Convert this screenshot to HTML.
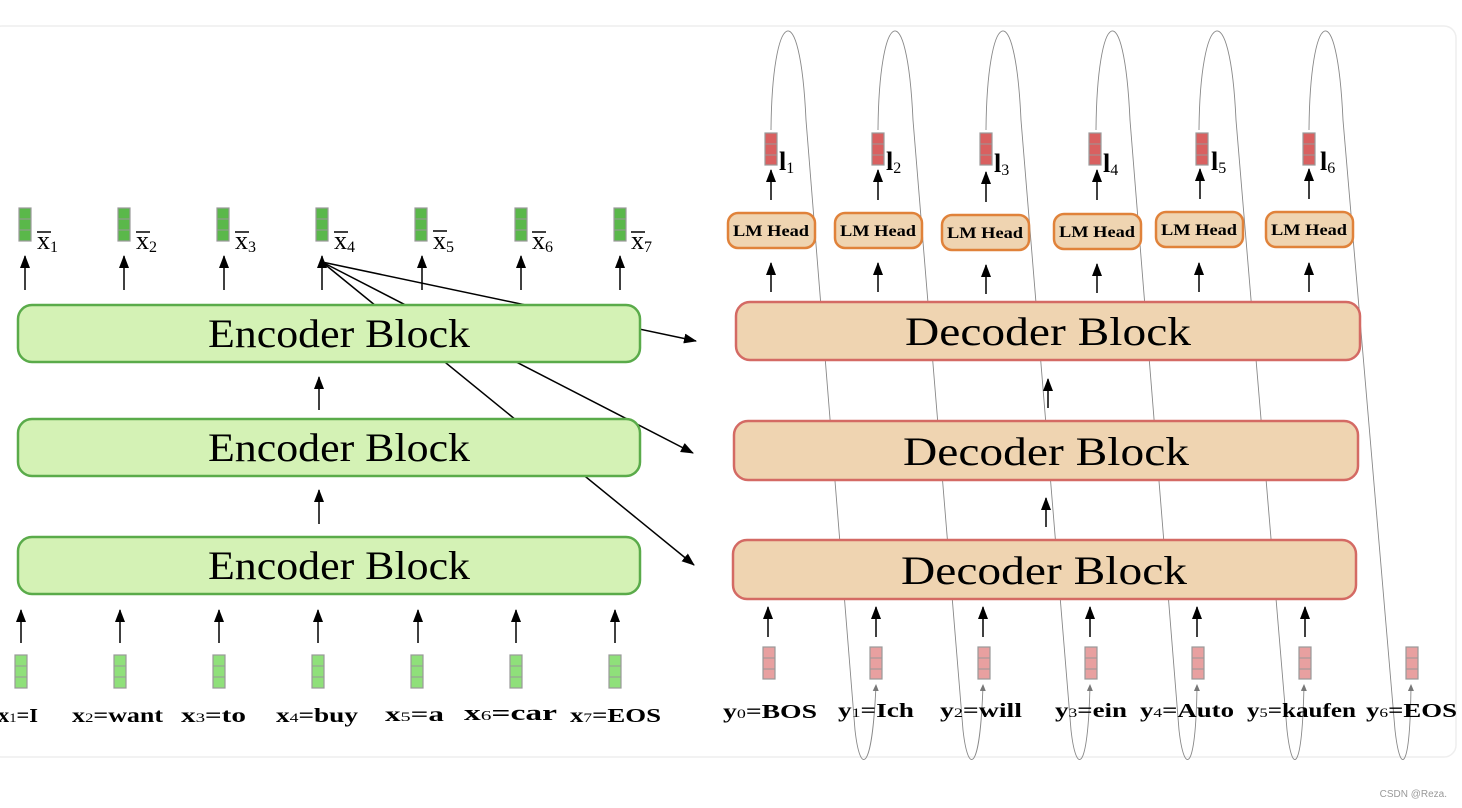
<!DOCTYPE html><html><head><style>body{margin:0;background:#fff}svg{display:block}</style></head><body>
<svg width="1462" height="808" viewBox="0 0 1462 808" xmlns="http://www.w3.org/2000/svg" font-family="Liberation Serif, serif">
<defs><marker id="a" markerWidth="14" markerHeight="14" refX="12" refY="5" orient="auto" markerUnits="userSpaceOnUse"><path d="M0,0 L13,5 L0,10 z" fill="#000"/></marker>
<marker id="g" markerWidth="8" markerHeight="8" refX="6" refY="3" orient="auto" markerUnits="userSpaceOnUse"><path d="M0,0 L7,3 L0,6 z" fill="#777"/></marker></defs>
<rect x="-10" y="26" width="1466" height="731" rx="12" fill="#fff" stroke="#eee" stroke-width="1.5"/>
<g fill="none" stroke="#888" stroke-width="0.9">
<path d="M771,130 C772,10 800,-10 806,120 L855,730 C860,775 872,775 876,685" marker-end="url(#g)"/>
<path d="M878,130 C879,10 907,-10 913,120 L963,730 C968,775 980,775 983,685" marker-end="url(#g)"/>
<path d="M986,130 C987,10 1015,-10 1021,120 L1071,730 C1076,775 1088,775 1090,685" marker-end="url(#g)"/>
<path d="M1096,130 C1097,10 1124,-10 1130,120 L1179,730 C1184,775 1196,775 1197,685" marker-end="url(#g)"/>
<path d="M1199,130 C1200,10 1230,-10 1236,120 L1287,730 C1292,775 1302,775 1304,685" marker-end="url(#g)"/>
<path d="M1309,130 C1310,10 1337,-10 1343,120 L1395,730 C1400,775 1410,775 1411,685" marker-end="url(#g)"/>
</g>
<g stroke="#000" stroke-width="1.5" marker-end="url(#a)">
<line x1="322" y1="262" x2="696" y2="341"/><line x1="322" y1="262" x2="693" y2="453"/><line x1="322" y1="262" x2="694" y2="565"/>
</g>
<g fill="#d4f2b5" stroke="#5aab4a" stroke-width="2.5">
<rect x="18" y="305" width="622" height="57" rx="14"/><rect x="18" y="419" width="622" height="57" rx="14"/><rect x="18" y="537" width="622" height="57" rx="14"/></g>
<g font-size="40" text-anchor="middle" lengthAdjust="spacingAndGlyphs"><text x="339" y="347" textLength="262" lengthAdjust="spacingAndGlyphs">Encoder Block</text><text x="339" y="461" textLength="262" lengthAdjust="spacingAndGlyphs">Encoder Block</text><text x="339" y="579" textLength="262" lengthAdjust="spacingAndGlyphs">Encoder Block</text></g>
<g fill="#efd4b1" stroke="#d46a64" stroke-width="2.5">
<rect x="736" y="302" width="624" height="58" rx="14"/><rect x="734" y="421" width="624" height="59" rx="14"/><rect x="733" y="540" width="623" height="59" rx="14"/></g>
<g font-size="40" text-anchor="middle"><text x="1048" y="345" textLength="286" lengthAdjust="spacingAndGlyphs">Decoder Block</text><text x="1046" y="465" textLength="286" lengthAdjust="spacingAndGlyphs">Decoder Block</text><text x="1044" y="584" textLength="286" lengthAdjust="spacingAndGlyphs">Decoder Block</text></g>
<g stroke="#000" stroke-width="1.5" marker-end="url(#a)">
<line x1="25" y1="290" x2="25" y2="256"/><line x1="124" y1="290" x2="124" y2="256"/><line x1="224" y1="290" x2="224" y2="256"/><line x1="322" y1="290" x2="322" y2="256"/><line x1="422" y1="290" x2="422" y2="256"/><line x1="521" y1="290" x2="521" y2="256"/><line x1="620" y1="290" x2="620" y2="256"/>
<line x1="319" y1="410" x2="319" y2="377"/><line x1="319" y1="524" x2="319" y2="490"/>
<line x1="21" y1="643" x2="21" y2="610"/><line x1="120" y1="643" x2="120" y2="610"/><line x1="219" y1="643" x2="219" y2="610"/><line x1="318" y1="643" x2="318" y2="610"/><line x1="418" y1="643" x2="418" y2="610"/><line x1="516" y1="643" x2="516" y2="610"/><line x1="615" y1="643" x2="615" y2="610"/>
<line x1="1048" y1="408" x2="1048" y2="379"/><line x1="1046" y1="527" x2="1046" y2="498"/>
<line x1="768" y1="637" x2="768" y2="607"/><line x1="876" y1="637" x2="876" y2="607"/><line x1="983" y1="637" x2="983" y2="607"/><line x1="1090" y1="637" x2="1090" y2="607"/><line x1="1197" y1="637" x2="1197" y2="607"/><line x1="1305" y1="637" x2="1305" y2="607"/>
<line x1="771" y1="292" x2="771" y2="263"/><line x1="878" y1="292" x2="878" y2="263"/><line x1="986" y1="294" x2="986" y2="265"/><line x1="1097" y1="293" x2="1097" y2="264"/><line x1="1199" y1="292" x2="1199" y2="263"/><line x1="1309" y1="292" x2="1309" y2="263"/>
<line x1="771" y1="200" x2="771" y2="170"/><line x1="878" y1="200" x2="878" y2="170"/><line x1="986" y1="202" x2="986" y2="172"/><line x1="1097" y1="200" x2="1097" y2="170"/><line x1="1200" y1="199" x2="1200" y2="169"/><line x1="1309" y1="199" x2="1309" y2="169"/>
</g>
<g fill="#efd4b1" stroke="#e0823a" stroke-width="2.5">
<rect x="728" y="213" width="87" height="35" rx="10"/><rect x="835" y="213" width="87" height="35" rx="10"/><rect x="942" y="215" width="87" height="35" rx="10"/><rect x="1054" y="214" width="87" height="35" rx="10"/><rect x="1156" y="212" width="87" height="35" rx="10"/><rect x="1266" y="212" width="87" height="35" rx="10"/></g>
<g font-size="16" text-anchor="middle" font-weight="bold"><text x="771" y="236" textLength="76" lengthAdjust="spacingAndGlyphs">LM Head</text><text x="878" y="236" textLength="76" lengthAdjust="spacingAndGlyphs">LM Head</text><text x="985" y="238" textLength="76" lengthAdjust="spacingAndGlyphs">LM Head</text><text x="1097" y="237" textLength="76" lengthAdjust="spacingAndGlyphs">LM Head</text><text x="1199" y="235" textLength="76" lengthAdjust="spacingAndGlyphs">LM Head</text><text x="1309" y="235" textLength="76" lengthAdjust="spacingAndGlyphs">LM Head</text></g>
<g stroke="#999" stroke-width="1.2">
<g fill="#5ab84a"><rect x="19" y="208" width="12" height="33"/><rect x="118" y="208" width="12" height="33"/><rect x="217" y="208" width="12" height="33"/><rect x="316" y="208" width="12" height="33"/><rect x="415" y="208" width="12" height="33"/><rect x="515" y="208" width="12" height="33"/><rect x="614" y="208" width="12" height="33"/></g>
<g fill="#8fe07a"><rect x="15" y="655" width="12" height="33"/><rect x="114" y="655" width="12" height="33"/><rect x="213" y="655" width="12" height="33"/><rect x="312" y="655" width="12" height="33"/><rect x="411" y="655" width="12" height="33"/><rect x="510" y="655" width="12" height="33"/><rect x="609" y="655" width="12" height="33"/></g>
<g fill="#d96060"><rect x="765" y="133" width="12" height="32"/><rect x="872" y="133" width="12" height="32"/><rect x="980" y="133" width="12" height="32"/><rect x="1089" y="133" width="12" height="32"/><rect x="1196" y="133" width="12" height="32"/><rect x="1303" y="133" width="12" height="32"/></g>
<g fill="#e8a0a0"><rect x="763" y="647" width="12" height="32"/><rect x="870" y="647" width="12" height="32"/><rect x="978" y="647" width="12" height="32"/><rect x="1085" y="647" width="12" height="32"/><rect x="1192" y="647" width="12" height="32"/><rect x="1299" y="647" width="12" height="32"/><rect x="1406" y="647" width="12" height="32"/></g>
</g>
<g stroke="#999" stroke-width="1">
<path d="M19,219h12M19,230h12M118,219h12M118,230h12M217,219h12M217,230h12M316,219h12M316,230h12M415,219h12M415,230h12M515,219h12M515,230h12M614,219h12M614,230h12"/>
<path d="M15,666h12M15,677h12M114,666h12M114,677h12M213,666h12M213,677h12M312,666h12M312,677h12M411,666h12M411,677h12M510,666h12M510,677h12M609,666h12M609,677h12"/>
<path d="M765,144h12M765,155h12M872,144h12M872,155h12M980,144h12M980,155h12M1089,144h12M1089,155h12M1196,144h12M1196,155h12M1303,144h12M1303,155h12"/>
<path d="M763,658h12M763,669h12M870,658h12M870,669h12M978,658h12M978,669h12M1085,658h12M1085,669h12M1192,658h12M1192,669h12M1299,658h12M1299,669h12M1406,658h12M1406,669h12"/>
</g>
<g font-size="26"><text x="37" y="249">x<tspan font-size="16" dy="3">1</tspan></text><text x="136" y="249">x<tspan font-size="16" dy="3">2</tspan></text><text x="235" y="249">x<tspan font-size="16" dy="3">3</tspan></text><text x="334" y="249">x<tspan font-size="16" dy="3">4</tspan></text><text x="433" y="249">x<tspan font-size="16" dy="3">5</tspan></text><text x="532" y="249">x<tspan font-size="16" dy="3">6</tspan></text><text x="631" y="249">x<tspan font-size="16" dy="3">7</tspan></text></g>
<g stroke="#000" stroke-width="1.5"><path d="M37,232h14M136,232h14M235,232h14M334,232h14M433,231h14M532,232h14M631,232h14"/></g>
<g font-size="26" font-weight="bold"><text x="779" y="170">l<tspan font-size="16" font-weight="normal" dy="3">1</tspan></text><text x="886" y="170">l<tspan font-size="16" font-weight="normal" dy="3">2</tspan></text><text x="994" y="172">l<tspan font-size="16" font-weight="normal" dy="3">3</tspan></text><text x="1103" y="172">l<tspan font-size="16" font-weight="normal" dy="3">4</tspan></text><text x="1211" y="170">l<tspan font-size="16" font-weight="normal" dy="3">5</tspan></text><text x="1320" y="170">l<tspan font-size="16" font-weight="normal" dy="3">6</tspan></text></g>
<g font-size="20" font-weight="bold">
<text x="-2" y="722" textLength="40" lengthAdjust="spacingAndGlyphs">x<tspan font-size="13" font-weight="normal">1</tspan>=I</text>
<text x="72" y="722" textLength="91" lengthAdjust="spacingAndGlyphs">x<tspan font-size="13" font-weight="normal">2</tspan>=want</text>
<text x="181" y="722" textLength="65" lengthAdjust="spacingAndGlyphs">x<tspan font-size="13" font-weight="normal">3</tspan>=to</text>
<text x="276" y="722" textLength="82" lengthAdjust="spacingAndGlyphs">x<tspan font-size="13" font-weight="normal">4</tspan>=buy</text>
<text x="385" y="721" textLength="59" lengthAdjust="spacingAndGlyphs">x<tspan font-size="13" font-weight="normal">5</tspan>=a</text>
<text x="464" y="720" font-size="22" textLength="93" lengthAdjust="spacingAndGlyphs">x<tspan font-size="14" font-weight="normal">6</tspan>=car</text>
<text x="570" y="722" textLength="91" lengthAdjust="spacingAndGlyphs">x<tspan font-size="13" font-weight="normal">7</tspan>=EOS</text>
<text x="723" y="718" textLength="94" lengthAdjust="spacingAndGlyphs">y<tspan font-size="13" font-weight="normal">0</tspan>=BOS</text>
<text x="838" y="717" textLength="76" lengthAdjust="spacingAndGlyphs">y<tspan font-size="13" font-weight="normal">1</tspan>=Ich</text>
<text x="940" y="717" textLength="82" lengthAdjust="spacingAndGlyphs">y<tspan font-size="13" font-weight="normal">2</tspan>=will</text>
<text x="1055" y="717" textLength="72" lengthAdjust="spacingAndGlyphs">y<tspan font-size="13" font-weight="normal">3</tspan>=ein</text>
<text x="1140" y="717" textLength="94" lengthAdjust="spacingAndGlyphs">y<tspan font-size="13" font-weight="normal">4</tspan>=Auto</text>
<text x="1247" y="717" textLength="109" lengthAdjust="spacingAndGlyphs">y<tspan font-size="13" font-weight="normal">5</tspan>=kaufen</text>
<text x="1366" y="717" textLength="91" lengthAdjust="spacingAndGlyphs">y<tspan font-size="13" font-weight="normal">6</tspan>=EOS</text></g>
<text x="1447" y="797" font-family="Liberation Sans, sans-serif" font-size="10" fill="#999" text-anchor="end">CSDN @Reza.</text>
</svg></body></html>
